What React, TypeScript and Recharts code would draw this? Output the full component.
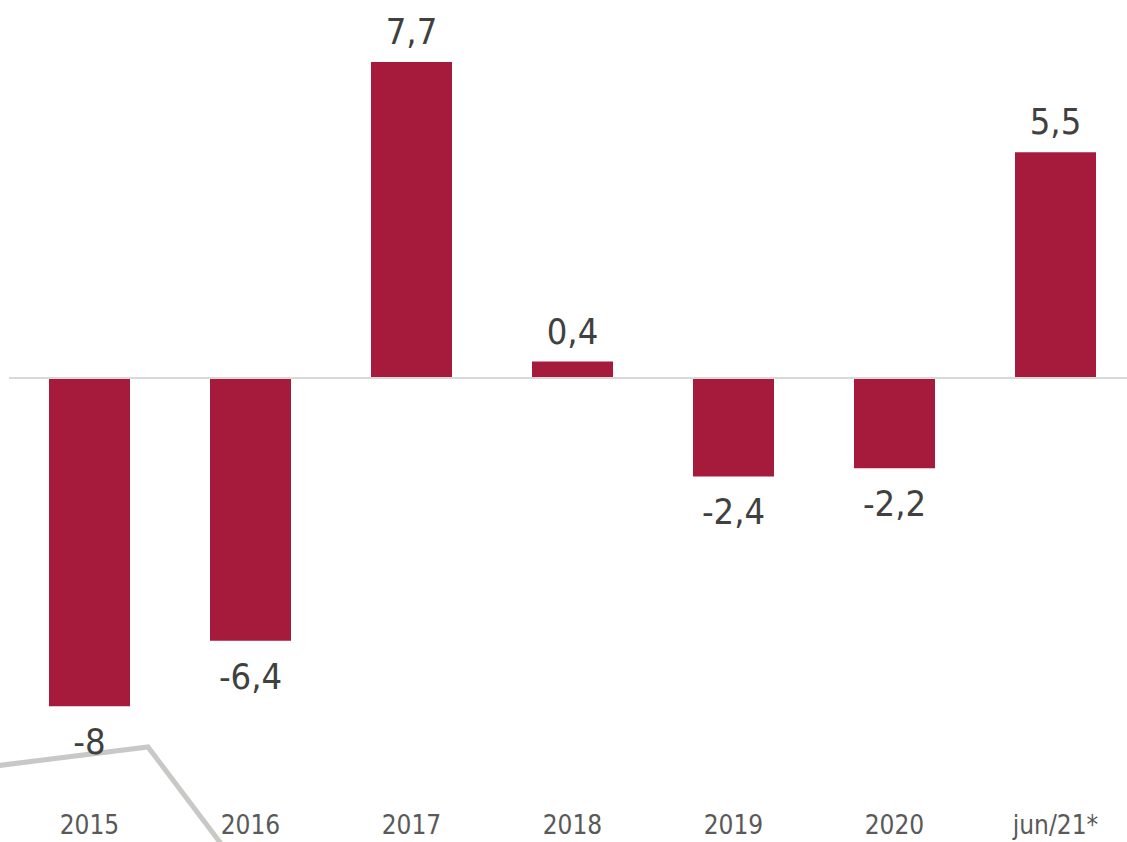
import { BarChart, Bar, XAxis, YAxis, ReferenceLine, LabelList } from 'recharts';

const periods = ['2015', '2016', '2017', '2018', '2019', '2020', 'jun/21*'];
const growth = [-8, -6.4, 7.7, 0.4, -2.4, -2.2, 5.5];

const data = periods.map((p, i) => ({ period: p, value: growth[i] }));

const FONT = '"DejaVu Sans Condensed", "DejaVu Sans", sans-serif';

const fmt = (v: number) => String(v).replace('.', ',');

const ValueLabel = (props: any) => {
  const { x, y, width, height, value } = props;
  const top = Math.min(y, y + height);
  const bottom = Math.max(y, y + height);
  const cx = x + width / 2;
  const ty = value >= 0 ? top - 18 : bottom + 48;
  return (
    <text x={cx} y={ty} textAnchor="middle" fill="#404040" fontSize={36} fontFamily={FONT}>
      {fmt(value)}
    </text>
  );
};

export default function App() {
  return (
    <div style={{ position: 'absolute', left: 0, top: 0, width: 1127, height: 842, overflow: 'hidden', background: '#fff' }}>
      {/* decorative grey stroke from the slide behind the chart */}
      <svg width={1127} height={842} style={{ position: 'absolute', left: 0, top: 0 }}>
        <polyline points="-5,766 148,747 222,845" fill="none" stroke="#c8c8c6" strokeWidth={5} />
      </svg>
      <div style={{ position: 'absolute', left: 0, top: 0 }}>
        <BarChart width={1136} height={842} data={data} margin={{ top: 8, right: 0, left: 9, bottom: 0 }}>
          <XAxis
            dataKey="period"
            axisLine={false}
            tickLine={false}
            height={37}
            tickMargin={11}
            tickSize={0}
            interval={0}
            tick={{ fill: '#595959', fontSize: 26, fontFamily: FONT }}
          />
          <YAxis hide domain={[-10.405, 9.016]} allowDataOverflow />
          <ReferenceLine y={0} stroke="#d9d9d9" strokeWidth={2} />
          <Bar dataKey="value" fill="#a61a3c" barSize={81} isAnimationActive={false}>
            <LabelList dataKey="value" content={ValueLabel} />
          </Bar>
        </BarChart>
      </div>
    </div>
  );
}
